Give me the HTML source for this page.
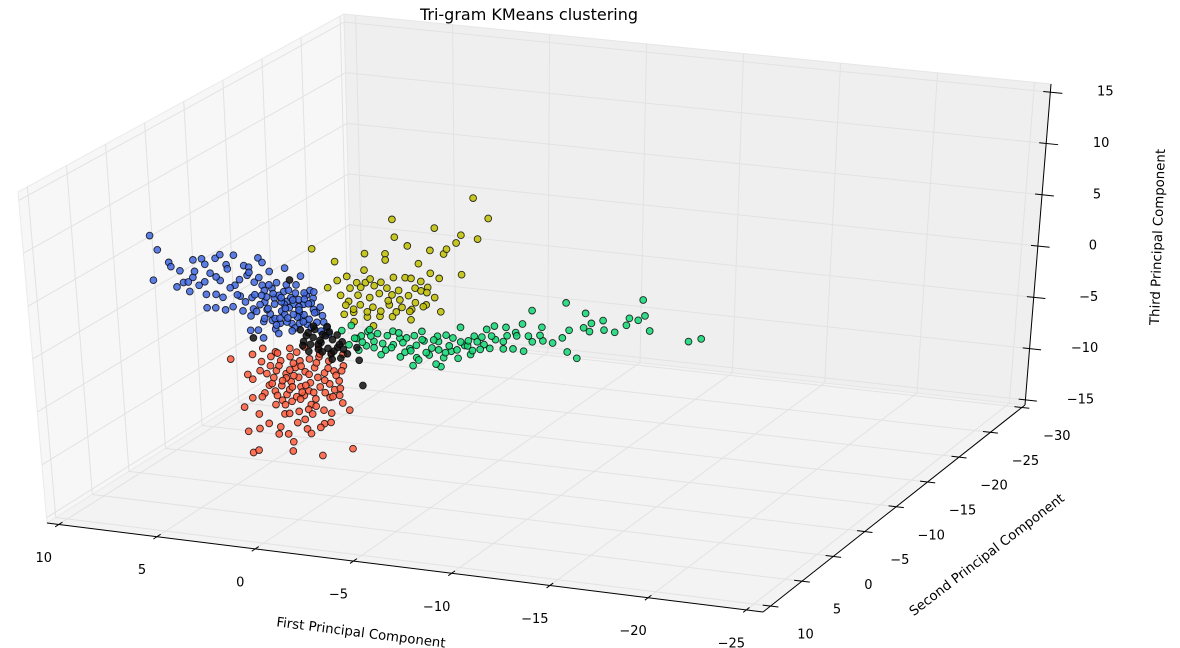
<!DOCTYPE html>
<html><head><meta charset="utf-8"><style>
html,body{margin:0;padding:0;background:#fff;}
svg{display:block;font-family:"DejaVu Sans","Liberation Sans",sans-serif;}
</style></head><body>
<svg id="chart" width="1180" height="648" viewBox="0 0 1180 648" xmlns="http://www.w3.org/2000/svg">
<text x="529" y="20" font-size="16" text-anchor="middle" fill="#000">Tri-gram KMeans clustering</text>
<g id="panes"></g><g id="grid"></g><g id="axes"></g><g id="points"></g>
<text x="361" y="637" font-size="13.3" text-anchor="middle" transform="rotate(7.2 361 633)">First Principal Component</text>
<text x="987" y="559" font-size="13.3" text-anchor="middle" transform="rotate(-37.5 987 555)">Second Principal Component</text>
<text x="1158" y="241" font-size="13.3" text-anchor="middle" transform="rotate(-88 1158 237)">Third Principal Component</text>
</svg>
<script>
// ---- axis data ----
const xTicks = [10, 5, 0, -5, -10, -15, -20, -25];
const yTicks = [10, 5, 0, -5, -10, -15, -20, -25, -30];
const zTicks = [15, 10, 5, 0, -5, -10, -15];
const xLim = [10.6, -25.85];
const yLim = [11.2, -30.5];
const zLim = [-15.5, 15.8];

// ---- cluster data (x = first PC, z = third PC, y = second PC depth per cluster) ----
const blueX = [12.5,12.15,12.45,11.6,11.5,11.05,10.35,9.9,9.75,9.2,8.95,8.25,8.65,9.5,10.4,10.9,10.65,11.25,10.6,10.1,9.75,9.75,9.3,8.8,8.4,9.25,8.9,8.25,7.75,7.5,7.0,6.8,6.45,5.65,7.6,7.25,6.85,7.9,7.5,7.55,7.15,6.9,6.4,5.9,5.6,5.1,4.85,4.6,4.25,4.1,4.9,5.4,4.6,3.9,6.1,6.25,6.75,7.4,5.75,6.75,6.25,5.75,5.25,4.75,5.25,6.0,6.5,7.0,5.5,5.0,4.25,3.75,3.5,6.25,8.0,8.5,9.0,7.25,6.65,6.0,6.35,5.15,4.75,4.35,5.5,5.0,4.5,5.75,6.65,6.25,5.65,5.0,6.85,7.35,7.75,8.15,
  4.2,4.5,4.8,5.1,5.4,5.7,6.0,6.3,6.6,6.9,7.2,4.4,4.7,5.0,5.3,5.6,5.9,6.2,6.5,6.8,3.8,4.1,4.4,4.7,5.0,5.3,5.6,5.9,3.6,3.9,4.2,7.0,7.5,8.0,8.6,9.2,9.8,10.3,6.1,5.4];
const blueZ = [2.7,1.4,-1.6,0.3,-0.1,-0.4,0.8,1.0,0.5,1.2,1.6,1.7,0.7,-0.3,-0.9,-1.5,-1.4,-2.0,-2.3,-1.6,-2.4,-3.7,-3.6,-3.7,-3.3,-2.3,-2.5,-1.2,0.8,0.7,1.7,1.3,0.5,1.0,-0.1,-0.7,-0.9,-3.6,-4.0,-5.4,-5.3,-6.0,-4.2,-3.2,-2.2,-0.5,0.4,-1.4,-1.6,-2.9,-3.6,-4.3,-4.2,-4.7,-0.5,-2.0,-2.5,-2.2,-1.3,-1.4,-2.6,-3.5,-2.4,-3.3,-4.7,-4.4,-3.6,-2.8,-1.1,-1.9,-2.7,-3.8,-4.9,-5.0,-2.2,-1.5,-0.9,-1.9,-2.0,-1.7,-1.1,-1.3,-2.3,-2.1,-2.8,-3.1,-3.7,-2.5,-3.2,-4.0,-4.2,-4.2,-4.4,-3.3,-2.7,-2.1,
  -3.0,-2.2,-4.0,-3.6,-1.8,-2.9,-3.9,-1.6,-3.1,-1.9,-3.5,-0.9,-1.2,-2.6,-3.4,-0.6,-2.3,-4.6,-0.8,-4.1,-3.2,-3.9,-4.5,-1.8,-2.9,-2.0,-3.8,-1.9,-4.3,-2.4,-1.0,-0.2,0.2,-0.6,0.3,-0.6,-1.2,-0.3,-5.4,-5.0];
const blueY = -9.4;

const redX = [8.35,7.2,7.5,7.25,6.85,6.65,6.4,7.75,7.3,7.0,7.6,7.0,6.5,7.4,7.1,6.0,5.5,5.25,5.3,4.5,3.75,2.15,3.6,3.25,2.6,2.25,2.75,3.25,4.25,4.9,5.65,6.1,5.25,4.6,6.25,5.75,5.25,4.75,4.25,3.75,3.25,6.0,5.5,5.0,4.5,4.0,3.5,3.0,2.5,6.25,5.75,5.25,4.75,4.25,3.75,3.25,2.75,5.5,5.0,4.0,3.5,5.75,2.5,5.25,4.5,3.75,6.0,6.75,6.65,5.85,4.85,3.85,5.35,4.35,6.15,3.0,
  6.3,5.9,5.5,5.1,4.7,4.3,3.9,3.5,3.1,2.7,6.1,5.7,5.3,4.9,4.5,4.1,3.7,3.3,2.9,6.0,5.6,5.2,4.8,4.4,4.0,3.6,3.2,5.4,5.0,4.6,4.2,3.8,6.5,6.8,5.9,4.3,3.1,2.6,5.1,4.7];
const redZ = [-8.0,-7.3,-9.3,-9.7,-8.8,-6.6,-10.1,-12.5,-11.5,-13.0,-14.8,-14.4,-13.8,-16.8,-16.5,-14.7,-14.6,-15.3,-16.2,-13.9,-16.3,-15.3,-13.2,-13.0,-11.0,-11.6,-10.3,-10.6,-11.5,-12.3,-12.7,-11.9,-11.4,-10.7,-7.3,-7.6,-7.1,-7.4,-7.1,-6.8,-7.1,-8.6,-8.8,-8.1,-8.4,-7.9,-8.3,-8.0,-7.4,-9.9,-10.0,-9.5,-9.9,-9.4,-9.7,-9.3,-8.9,-10.8,-10.9,-10.9,-10.2,-11.4,-6.3,-6.3,-6.0,-5.8,-6.8,-7.9,-10.9,-8.1,-9.0,-8.8,-10.3,-10.2,-9.3,-9.8,
  -8.2,-6.9,-9.2,-7.7,-10.4,-8.6,-7.4,-9.0,-10.5,-9.6,-10.6,-9.5,-8.4,-6.6,-9.7,-10.3,-6.5,-7.8,-8.4,-11.0,-11.8,-10.0,-11.1,-12.0,-11.6,-11.9,-12.1,-12.6,-13.4,-13.0,-12.4,-13.6,-9.0,-11.3,-14.0,-14.3,-6.3,-7.9,-8.9,-7.9];
const redY = -8.6;

const yellowX = [4.65,3.5,0.5,0.4,-0.25,0.9,0.9,1.95,2.0,2.9,2.4,1.95,1.15,0.5,-0.1,-0.4,-0.9,-0.8,-1.4,-1.65,-2.1,-2.25,-2.75,-3.0,-3.85,-3.65,-4.4,-3.0,-1.85,-1.4,3.9,3.25,2.75,2.85,2.35,2.25,1.75,1.6,1.25,0.85,0.6,0.25,-0.25,-0.6,-0.9,-1.25,-1.6,-1.15,-0.4,0.1,0.75,1.25,1.9,2.6,3.1,0.6,-0.35,-1.9,2.6,1.6,
  3.0,2.2,1.5,0.8,0.2,-0.6,-1.2,2.6,1.9,1.2,0.4,-0.3,-1.0,3.4,1.7];
const yellowZ = [2.6,1.6,6.3,4.6,3.9,2.9,2.3,2.7,1.1,0.3,-0.2,-0.1,0.1,0.7,0.8,0.8,0.6,2.3,3.7,5.9,3.5,4.0,4.7,5.5,5.3,9.2,7.4,1.7,1.1,1.5,-1.0,-1.6,-0.8,-2.1,-1.4,-2.3,-1.5,-2.4,-1.0,-0.4,-1.0,-0.5,-0.9,-0.1,-0.3,0.1,-0.8,-1.6,-2.2,-2.1,-2.0,-3.2,-3.4,-3.1,-3.4,-3.1,-3.2,-2.1,-4.0,-4.2,
  -2.5,-0.6,-0.3,-1.6,-1.4,-1.5,-0.4,-2.8,-2.9,-2.7,-2.6,-2.4,-1.8,-0.2,0.3];
const yellowY = -10.5;

const greenX = [3.25,2.75,2.25,1.6,0.9,0.6,-0.1,-0.6,-0.9,-1.4,-1.75,-2.15,-2.4,-2.9,-3.1,-3.6,-4.25,-4.65,-5.25,-5.75,-6.1,-6.15,-6.6,-3.4,-2.75,-1.85,-0.4,-1.6,0.25,1.25,2.4,2.9,-4.4,-5.1,-5.6,-3.75,-1.25,-0.6,1.6,0.6,1.9,-6.6,-7.1,-7.15,-8.35,-8.5,-8.4,-8.9,-9.35,-9.25,-9.65,-9.55,-10.25,-10.3,-10.85,-11.45,-11.6,-12.05,-12.3,-12.4,-12.65,-14.65,-15.3,-8.15,-7.65,2.5,1.75,1.15,0.25,-0.25,-1.0,-1.75,-2.5,-3.25,-4.0,0.0,2.0,-2.0,
  2.2,1.4,0.7,0.1,-0.5,-1.1,-1.7,-2.3,-2.9,-3.5,-4.1,-4.7,-5.3,1.8,1.0,0.3,-0.3,-0.9,-1.5,-2.1,-2.7,-3.3,-3.9,-4.5,-5.1,-5.8,-6.4,-7.0,2.6,-0.7];
const greenZ = [-5.0,-4.4,-5.3,-5.7,-5.0,-5.8,-5.0,-5.6,-4.2,-5.7,-5.0,-4.3,-5.8,-3.4,-5.1,-4.1,-3.3,-2.9,-2.9,-3.3,-2.4,-5.0,-1.0,-5.9,-6.4,-7.4,-7.6,-7.2,-6.9,-6.9,-6.7,-6.3,-5.1,-4.3,-4.9,-4.6,-6.4,-6.8,-6.3,-4.5,-4.8,-4.0,-2.5,-3.8,0.1,-2.5,-4.6,-5.1,-0.7,-2.1,-1.6,-2.4,-1.2,-2.1,-2.2,-1.4,-0.7,-0.8,1.2,-0.3,-1.7,-2.3,-1.9,-3.3,-3.9,-5.6,-5.2,-5.8,-5.1,-6.0,-5.1,-5.8,-4.5,-5.1,-4.1,-6.4,-6.2,-6.5,
  -5.9,-4.9,-6.1,-5.5,-4.7,-6.2,-4.5,-5.3,-4.8,-5.5,-4.8,-4.2,-3.7,-4.6,-6.4,-4.6,-6.2,-5.0,-4.9,-6.0,-5.6,-4.6,-5.3,-3.9,-5.0,-3.6,-3.5,-3.3,-5.6,-7.0];
const greenY = -10.5;

const blackX = [4.75,4.25,3.85,3.5,3.25,3.0,4.0,4.5,2.75,2.5,2.85,4.15,3.75,4.9,7.35,5.35,1.9,1.75,3.35,2.0,3.5,
  4.6,4.0,3.6,3.2,2.9,4.4,3.8,3.4,3.0,4.8,4.2,3.3,2.7,3.9,4.5];
const blackZ = [-5.8,-5.3,-5.7,-6.2,-5.3,-6.0,-6.4,-6.7,-5.4,-6.5,-7.0,-4.5,-4.9,-4.7,-6.0,0.0,-7.0,-9.4,-6.7,-5.8,-4.1,
  -5.2,-5.9,-5.0,-6.4,-5.7,-6.0,-6.6,-4.6,-4.8,-6.2,-4.2,-7.2,-6.1,-5.5,-4.9];
const blackY = -9.2;

// ---- projection (box corners in screen space) ----
const C000=[47,523], C100=[763,612], C110=[1025,405], C010=[352,331];
const C001=[18,192], C101=[768,277], C111=[1051,84], C011=[344,14];
function lerp(a,b,t){return [a[0]+(b[0]-a[0])*t, a[1]+(b[1]-a[1])*t];}
function projUVW(u,v,w){
  const b=lerp(lerp(C000,C100,u), lerp(C010,C110,u), v);
  const t=lerp(lerp(C001,C101,u), lerp(C011,C111,u), v);
  return lerp(b,t,w);
}
function uOf(x){return (xLim[0]-x)/(xLim[0]-xLim[1]);}
function vOf(y){return (yLim[0]-y)/(yLim[0]-yLim[1]);}
function wOf(z){return (z-zLim[0])/(zLim[1]-zLim[0]);}
function proj(x,y,z){return projUVW(uOf(x),vOf(y),wOf(z));}

const NS="http://www.w3.org/2000/svg";
function mk(tag,parent,attrs){const e=document.createElementNS(NS,tag);for(const k in attrs)e.setAttribute(k,attrs[k]);parent.appendChild(e);return e;}
function pts(arr){return arr.map(p=>p[0].toFixed(1)+","+p[1].toFixed(1)).join(" ");}

// panes
const panes=document.getElementById('panes');
let p=mk('polygon',panes,{points:pts([C000,C010,C011,C001]),fill:'#f7f7f7',stroke:'#eaeaea'});


p=mk('polygon',panes,{points:pts([C000,C100,C110,C010]),fill:'#f3f3f3',stroke:'#eaeaea'});


p=mk('polygon',panes,{points:pts([C010,C110,C111,C011]),fill:'#efefef',stroke:'#e6e6e6'});



// gridlines
const grid=document.getElementById('grid');
function gl(a,b,name){const l=mk('line',grid,{x1:a[0],y1:a[1],x2:b[0],y2:b[1],stroke:'#e2e2e2','stroke-width':1});
  
  }
xTicks.forEach(t=>{const u=uOf(t);gl(projUVW(u,0,0),projUVW(u,1,0),'x-gridline');gl(projUVW(u,1,0),projUVW(u,1,1),'x-gridline');});
yTicks.forEach(t=>{const v=vOf(t);gl(projUVW(0,v,0),projUVW(1,v,0),'y-gridline');gl(projUVW(0,v,0),projUVW(0,v,1),'y-gridline');});
zTicks.forEach(t=>{const w=wOf(t);gl(projUVW(0,0,w),projUVW(0,1,w),'z-gridline');gl(projUVW(0,1,w),projUVW(1,1,w),'z-gridline');});

// axes
const axes=document.getElementById('axes');
function al(a,b,name){const l=mk('line',axes,{x1:a[0],y1:a[1],x2:b[0],y2:b[1],stroke:'#000','stroke-width':1});
  
  }
function lab(pt,txt,name){const t=mk('text',axes,{x:pt[0],y:pt[1],'font-size':13,'text-anchor':'middle','dominant-baseline':'central',fill:'#000'});t.textContent=txt.replace('-','\u2212');
  
  }
al(C000,C100,'x-axis-line');al(C100,C110,'y-axis-line');al(C110,C111,'z-axis-line');
xTicks.forEach(t=>{const u=uOf(t);const c=projUVW(u,0,0);al(projUVW(u,-0.012,0),projUVW(u,0.012,0),'x-tick');lab([c[0]-15,c[1]+34],String(t),'x-tick-label');});
yTicks.forEach(t=>{const v=vOf(t);const c=projUVW(1,v,0);al(projUVW(0.989,v,0),projUVW(1.011,v,0),'y-tick');lab([c[0]+35,c[1]+29],String(t),'y-tick-label');});
zTicks.forEach(t=>{const w=wOf(t);const c=projUVW(1,1,w);al(projUVW(0.99,1,w),projUVW(1.017,1,w),'z-tick');lab([c[0]+55,c[1]],String(t),'z-tick-label');});

// points
const pg=document.getElementById('points');
function cluster(xs,zs,y,color,name){
  const g=mk('g',pg,{});
  
  
  xs.forEach((x,i)=>{const s=proj(x,y,zs[i]);
    const c=mk('circle',g,{cx:s[0].toFixed(1),cy:s[1].toFixed(1),r:3.4,fill:color,'fill-opacity':0.85,stroke:'#000','stroke-opacity':0.8,'stroke-width':0.9});
    
    });
}
cluster(blueX,blueZ,blueY,'#4169e1','blue');
cluster(redX,redZ,redY,'#ff5a3c','red');
cluster(yellowX,yellowZ,yellowY,'#bfbf00','yellow');
cluster(greenX,greenZ,greenY,'#10d874','green');
cluster(blackX,blackZ,blackY,'#111111','black');
</script>
</body></html>
